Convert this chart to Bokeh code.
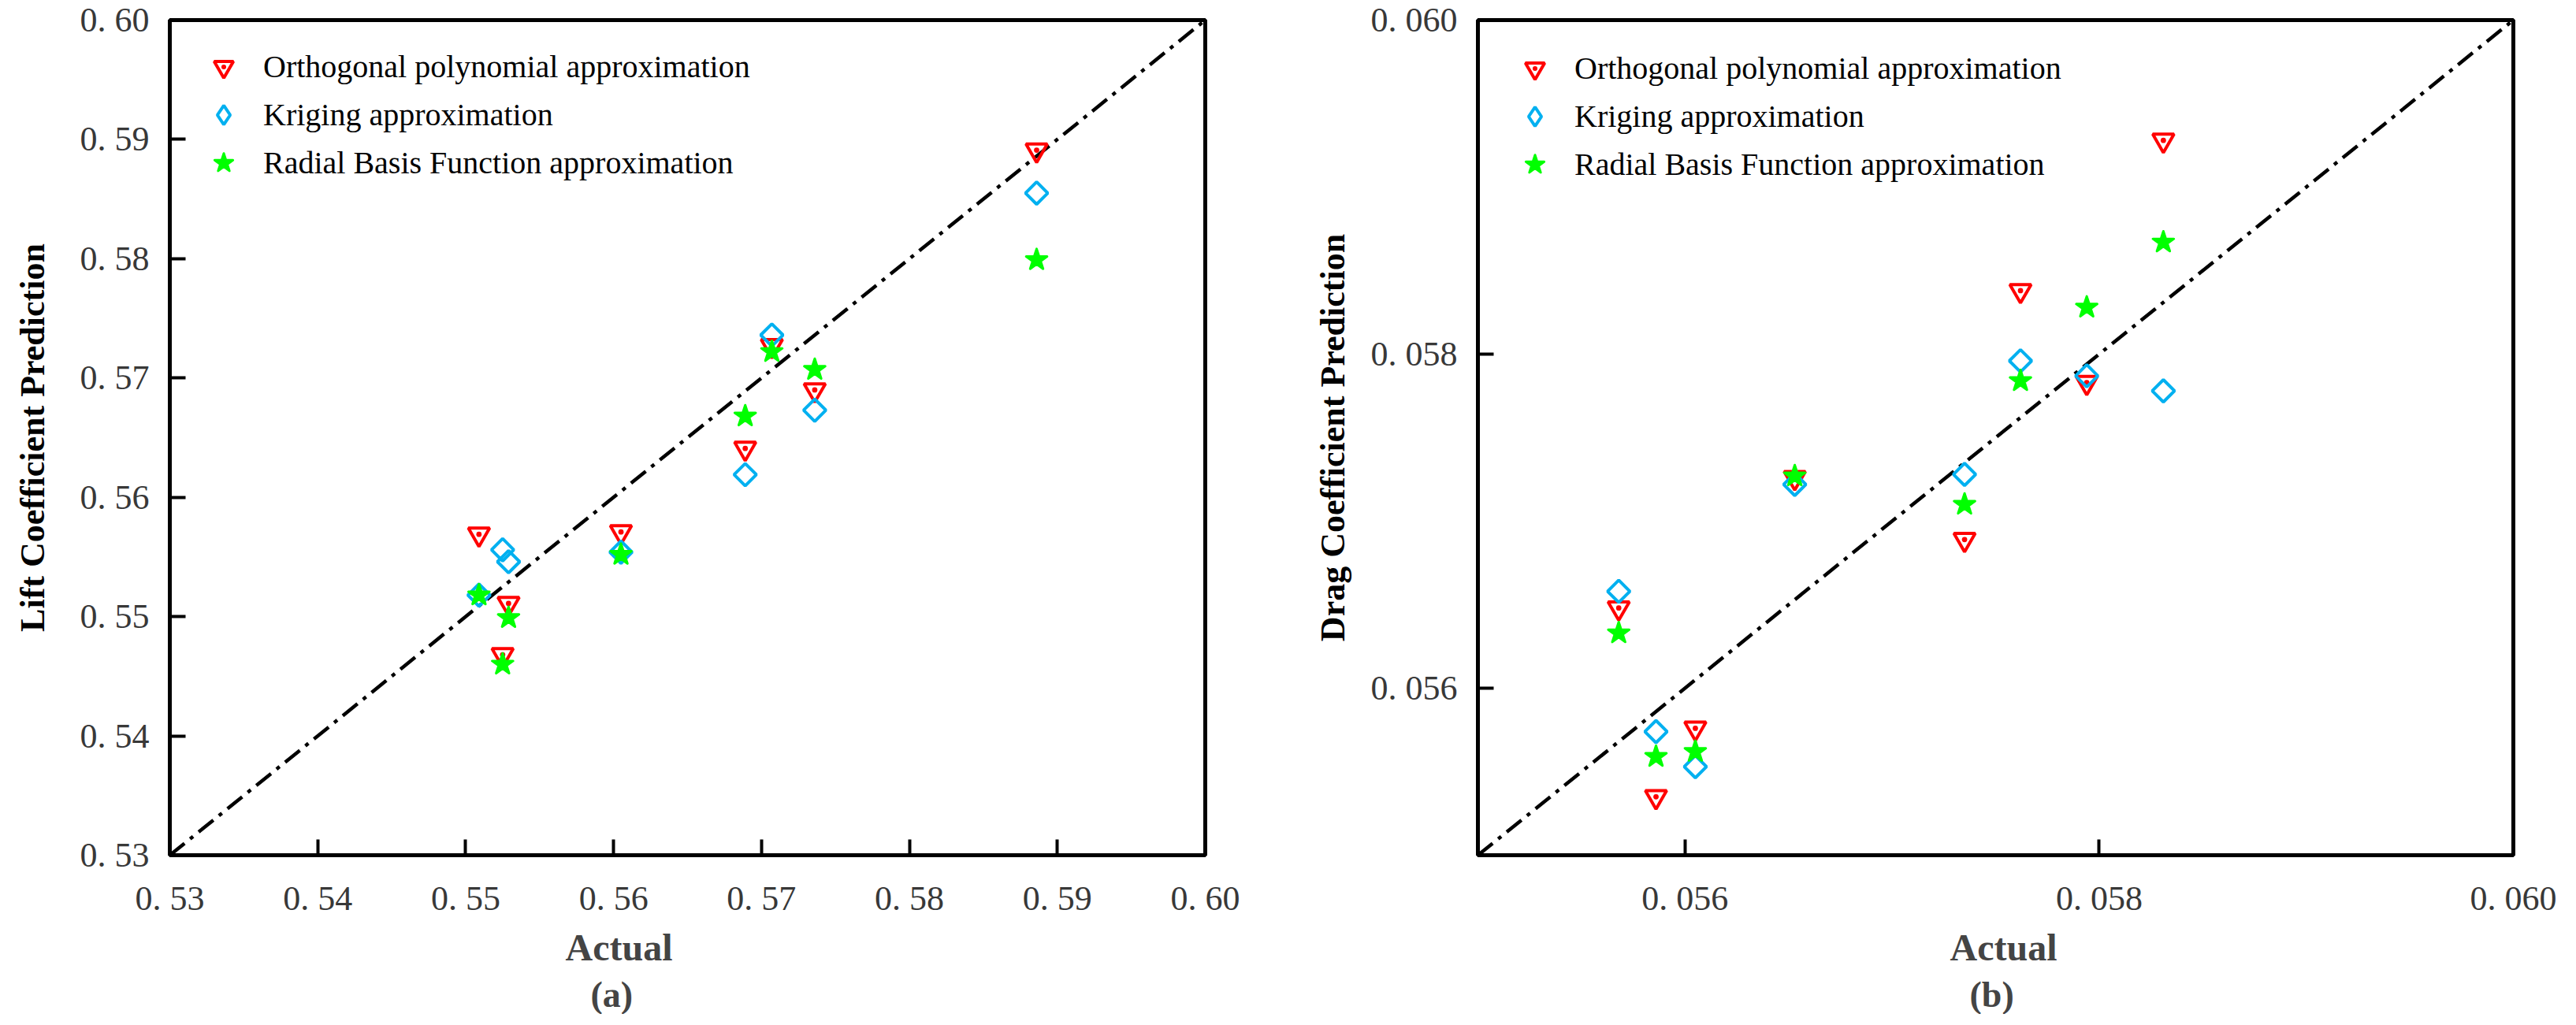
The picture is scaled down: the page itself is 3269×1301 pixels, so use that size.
import numpy as np
from bokeh.plotting import figure
from bokeh.layouts import row
from bokeh.models import (FixedTicker, CustomJSTickFormatter, Legend, LegendItem,
                          Title, Range1d)
from bokeh.embed import file_html
from bokeh.resources import INLINE

# ---------------- data ----------------
series_names = ["Orthogonal polynomial approximation",
                "Kriging approximation",
                "Radial Basis Function approximation"]

# (a) lift coefficient
lift_actual  = [0.5509, 0.5525, 0.5529, 0.5605, 0.5689, 0.5707, 0.5736, 0.5886]
lift_opa     = [0.5569, 0.5468, 0.5511, 0.5571, 0.5641, 0.5727, 0.5690, 0.5891]
lift_kriging = [0.5518, 0.5556, 0.5546, 0.5554, 0.5619, 0.5736, 0.5673, 0.5855]
lift_rbf     = [0.5518, 0.5460, 0.5499, 0.5552, 0.5668, 0.5722, 0.5707, 0.5799]
lift_range   = [0.53, 0.60]
lift_ticks   = [0.53, 0.54, 0.55, 0.56, 0.57, 0.58, 0.59, 0.60]

# (b) drag coefficient
drag_actual  = [0.05568, 0.05586, 0.05605, 0.05653, 0.05735, 0.05762, 0.05794, 0.05831]
drag_opa     = [0.05648, 0.05535, 0.05576, 0.05726, 0.05689, 0.05838, 0.05783, 0.05928]
drag_kriging = [0.05658, 0.05574, 0.05553, 0.05722, 0.05728, 0.05796, 0.05787, 0.05778]
drag_rbf     = [0.05633, 0.05559, 0.05562, 0.05727, 0.05710, 0.05784, 0.05828, 0.05867]
drag_range   = [0.055, 0.060]
drag_ticks   = [0.056, 0.058, 0.060]

RED, BLUE, GREEN = "#ff0000", "#00b0f0", "#00ff00"
SERIF = "Liberation Serif"


def make_panel(actual, opa, krig, rbf, rng, ticks, digits, ylabel, tag,
               border_left, border_right, ylabel_standoff, legend_loc,
               actual_off, tag_off):
    p = figure(frame_width=1314, frame_height=1060,
               min_border_left=border_left, min_border_right=border_right,
               min_border_top=25, min_border_bottom=10,
               x_range=Range1d(*rng), y_range=Range1d(*rng),
               output_backend="svg", toolbar_location=None,
               background_fill_color="white", border_fill_color="white")
    p.grid.visible = False
    p.outline_line_color = "black"
    p.outline_line_width = 5
    p.outline_line_alpha = 1.0

    fmt = CustomJSTickFormatter(code=f"return tick.toFixed({digits}).replace('.', '. ');")
    for ax in (p.xaxis[0], p.yaxis[0]):
        ax.ticker = FixedTicker(ticks=ticks, minor_ticks=[])
        ax.formatter = fmt
        ax.axis_line_color = None
        ax.major_tick_in = 20
        ax.major_tick_out = 0
        ax.major_tick_line_width = 4
        ax.major_tick_line_color = "black"
        ax.minor_tick_line_color = None
        ax.major_label_text_font = SERIF
        ax.major_label_text_font_size = "44px"
        ax.major_label_text_color = "#383838"
    p.xaxis.major_label_standoff = 30
    p.yaxis.major_label_standoff = 26

    p.yaxis.axis_label = ylabel
    p.yaxis.axis_label_text_font = SERIF
    p.yaxis.axis_label_text_font_style = "bold"
    p.yaxis.axis_label_text_font_size = "44px"
    p.yaxis.axis_label_text_color = "black"
    p.yaxis.axis_label_standoff = ylabel_standoff

    # 1:1 reference line
    p.line(rng, rng, line_color="black", line_width=4.5, line_dash="24 9 5 9")

    r1 = p.scatter(actual, opa, marker="inverted_triangle", size=27,
                   fill_color=None, line_color=RED, line_width=4)
    r1d = p.scatter(actual, opa, marker="dot", size=27,
                    fill_color=RED, line_color=RED, line_width=1)
    p.scatter(actual, krig, marker="square", angle=np.pi / 4, size=20,
              fill_color=None, line_color=BLUE, line_width=4)
    # legend-only swatch for the Kriging diamonds (NaN -> nothing drawn in the frame)
    r2 = p.scatter(np.array([np.nan]), np.array([np.nan]), marker="diamond",
                   size=27, fill_color=None, line_color=BLUE, line_width=4)
    r3 = p.scatter(actual, rbf, marker="star", size=28,
                   fill_color=GREEN, line_color=GREEN, line_width=3,
                   line_join="round")

    legend = Legend(items=[LegendItem(label=series_names[0], renderers=[r1, r1d]),
                           LegendItem(label=series_names[1], renderers=[r2]),
                           LegendItem(label=series_names[2], renderers=[r3])],
                    location=legend_loc, orientation="vertical",
                    glyph_width=61, glyph_height=61, label_height=61,
                    spacing=0, padding=0, margin=0, label_standoff=20,
                    label_text_font=SERIF, label_text_font_size="40px",
                    label_text_color="black",
                    background_fill_alpha=0, border_line_color=None)
    p.add_layout(legend)

    p.add_layout(Title(text="Actual", align="left", offset=actual_off,
                       text_font=SERIF, text_font_style="bold",
                       text_font_size="48px", standoff=12), "below")
    p.add_layout(Title(text=tag, align="left", offset=tag_off,
                       text_font=SERIF, text_font_style="bold",
                       text_font_size="46px", standoff=0), "below")
    return p


pa = make_panel(lift_actual, lift_opa, lift_kriging, lift_rbf, lift_range,
                lift_ticks, 2, "Lift Coefficient Prediction", "(a)",
                215, 63, 33, (38, 848), 502, 534)
pb = make_panel(drag_actual, drag_opa, drag_kriging, drag_rbf, drag_range,
                drag_ticks, 3, "Drag Coefficient Prediction", "(b)",
                283, 64, 21, (42, 846), 599, 624)

layout = row(pa, pb, spacing=0)
open("out.html", "w").write(file_html(layout, INLINE))
